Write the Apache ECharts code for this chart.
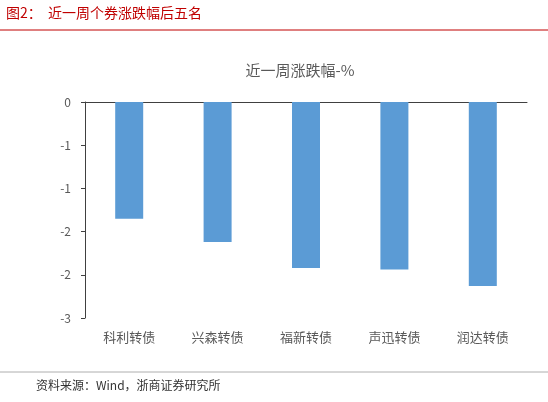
<!DOCTYPE html>
<html><head><meta charset="utf-8">
<script src="https://cdn.jsdelivr.net/npm/echarts@6/dist/echarts.min.js"></script>
<style>html,body{margin:0;padding:0;background:#fff}#c{width:548px;height:402px}</style>
</head><body><div id="c"></div>
<script>
const categories = ['科利转债', '兴森转债', '福新转债', '声迅转债', '润达转债'];
const values = [-1.35, -1.62, -1.92, -1.94, -2.13];

const chart = echarts.init(document.getElementById('c'));
const font = '"Noto Sans CJK SC", sans-serif';
chart.setOption({
  animation: false,
  title: {
    text: '近一周涨跌幅-%', left: 295, top: 58, textAlign: 'center',
    textStyle: { fontFamily: font, fontSize: 15, fontWeight: 'normal', color: '#595959' }
  },
  grid: { left: 85, right: 21, top: 102, bottom: 84 },
  xAxis: {
    type: 'category', data: categories, position: 'top',
    axisLine: { lineStyle: { color: '#404040' } },
    axisTick: { show: false },
    axisLabel: { show: false }
  },
  yAxis: {
    type: 'value', min: -2.5, max: 0, interval: 0.5,
    splitLine: { show: false },
    axisLine: { show: true, lineStyle: { color: '#404040' } },
    axisTick: { show: true, length: 4, lineStyle: { color: '#404040' } },
    axisLabel: {
      fontFamily: font, fontSize: 12, color: '#595959', margin: 14,
      formatter: v => String(v < 0 ? -Math.round(-v) : Math.round(v))
    }
  },
  series: [{
    type: 'bar', data: values, barWidth: 28,
    itemStyle: { color: '#5b9bd5' }
  }],
  graphic: [
    { type: 'text', left: 6, top: 6, style: { text: '图2：  近一周个券涨跌幅后五名', fill: '#c00000', font: '14px ' + font } },
    { type: 'line', shape: { x1: 0, y1: 30, x2: 548, y2: 30 }, style: { stroke: '#c00000', lineWidth: 1 } },
    ...categories.map((c, i) => ({
      type: 'text', x: 85 + (442 / 5) * (i + 0.5), y: 331,
      style: { text: c, fill: '#595959', font: '13px ' + font, textAlign: 'center' }
    })),
    { type: 'line', shape: { x1: 0, y1: 372, x2: 548, y2: 372 }, style: { stroke: '#999', lineWidth: 0.8 } },
    { type: 'text', left: 36, top: 379, style: { text: '资料来源：Wind，浙商证券研究所', fill: '#333', font: '12px ' + font } }
  ]
});
</script></body></html>
